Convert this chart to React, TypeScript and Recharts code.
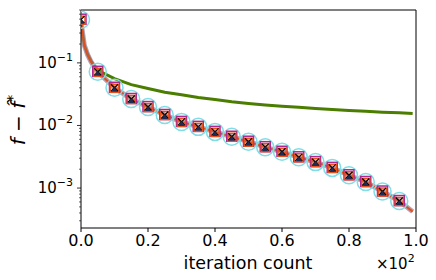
import React from 'react';
import { ComposedChart, Line, Scatter, XAxis, YAxis, ReferenceLine } from 'recharts';

// iteration (x100) and objective gap
const lineX = [0, 0.01, 0.02, 0.03, 0.04, 0.05, 0.1, 0.15, 0.2, 0.25, 0.3, 0.35, 0.4, 0.45, 0.5, 0.55, 0.6, 0.65, 0.7, 0.75, 0.8, 0.85, 0.9, 0.95, 0.99];
const bundleY = [0.45, 0.19, 0.134, 0.104, 0.086, 0.072, 0.04, 0.0265, 0.0197, 0.0147, 0.0114, 0.0095, 0.0079, 0.0066, 0.0055, 0.0045, 0.0038, 0.0031, 0.0026, 0.0021, 0.0016, 0.00125, 0.00088, 0.00062, 0.00042];
const greenY = [0.45, 0.19, 0.136, 0.107, 0.09, 0.076, 0.056, 0.045, 0.039, 0.034, 0.031, 0.028, 0.026, 0.024, 0.0225, 0.0213, 0.0203, 0.0195, 0.0187, 0.018, 0.0174, 0.0168, 0.0163, 0.0159, 0.0155];
const markerX = [0, 0.05, 0.1, 0.15, 0.2, 0.25, 0.3, 0.35, 0.4, 0.45, 0.5, 0.55, 0.6, 0.65, 0.7, 0.75, 0.8, 0.85, 0.9, 0.95];
const markerY = [0.49, 0.072, 0.04, 0.0265, 0.0197, 0.0147, 0.0114, 0.0095, 0.0079, 0.0066, 0.0055, 0.0045, 0.0038, 0.0031, 0.0026, 0.0021, 0.0016, 0.00125, 0.00088, 0.00062];

const xTicks = [0, 0.2, 0.4, 0.6, 0.8, 1.0];
const majorY = [0.001, 0.01, 0.1];
const minorY = [0.0003, 0.0004, 0.0005, 0.0006, 0.0007, 0.0008, 0.0009, 0.002, 0.003, 0.004, 0.005, 0.006, 0.007, 0.008, 0.009, 0.02, 0.03, 0.04, 0.05, 0.06, 0.07, 0.08, 0.09, 0.2, 0.3, 0.4, 0.5, 0.6, 0.7];

const bundleData = lineX.map((x, i) => ({ x, y: bundleY[i] }));
const greenData = lineX.map((x, i) => ({ x, y: greenY[i] }));
const markerData = markerX.map((x, i) => ({ x, y: markerY[i] }));

const FONT = 'DejaVu Sans';

function YTick(props: any) {
  const { x, y, payload } = props;
  const v = payload.value;
  const major = majorY.some((m) => Math.abs(m - v) / m < 1e-6);
  if (!major) {
    return <line x1={x - 2} x2={x} y1={y} y2={y} stroke="#000" strokeWidth={0.6} />;
  }
  const exp = Math.round(Math.log10(v));
  return (
    <g>
      <line x1={x - 4} x2={x} y1={y} y2={y} stroke="#000" strokeWidth={0.8} />
      <text x={x - 8} y={y + 5} textAnchor="end" fontFamily={FONT} fontSize={15} fill="#000">
        10<tspan dy={-7} fontSize={11}>{'\u2212' + Math.abs(exp)}</tspan>
      </text>
    </g>
  );
}

function Marks(props: any) {
  const { cx, cy } = props;
  return (
    <g>
      <circle cx={cx} cy={cy} r={8.5} fill="none" stroke="#7fdde6" strokeWidth={1.5} />
      <rect x={cx - 5} y={cy - 5.5} width={10} height={10} fill="none" stroke="#b4268c" strokeWidth={1.5} />
      <rect x={cx - 4} y={cy - 3.5} width={8} height={8} fill="none" stroke="#e8521e" strokeWidth={1.5} />
      <path d={`M${cx - 3.5},${cy - 3.5}L${cx + 3.5},${cy + 3.5}M${cx - 3.5},${cy + 3.5}L${cx + 3.5},${cy - 3.5}`} stroke="#000" strokeWidth={1.2} />
      <path d={`M${cx},${cy - 1}L${cx + 3},${cy + 4}L${cx - 3},${cy + 4}Z`} fill="#1f2a55" />
    </g>
  );
}

export default function App() {
  return (
    <div style={{ position: 'absolute', left: 0, top: 0, width: 436, height: 280 }}>
      <ComposedChart width={436} height={280} margin={{ top: 10, right: 20, bottom: 0, left: 0 }}>
        <XAxis
          dataKey="x"
          type="number"
          domain={[0, 1]}
          ticks={xTicks}
          tickFormatter={(v: number) => v.toFixed(1)}
          allowDataOverflow
          height={52}
          stroke="#000"
          tickSize={4}
          tickMargin={3}
          tick={{ fill: '#000', fontSize: 16, fontFamily: FONT }}
        />
        <YAxis
          dataKey="y"
          type="number"
          scale="log"
          domain={[0.00023, 0.7]}
          allowDataOverflow
          ticks={[...minorY, ...majorY]}
          width={81}
          stroke="#000"
          tickSize={0}
          tickMargin={0}
          tickLine={false}
          tick={<YTick />}
          interval={0}
        />
        <ReferenceLine x={1} stroke="#000" />
        <ReferenceLine y={0.7} stroke="#000" />
        <Line data={greenData} dataKey="y" stroke="#4a7d00" strokeWidth={3} dot={false} isAnimationActive={false} />
        <Line data={bundleData} dataKey="y" stroke="#9a7890" strokeOpacity={0.7} strokeWidth={5} dot={false} isAnimationActive={false} />
        <Line data={bundleData} dataKey="y" stroke="#e0501e" strokeWidth={2} dot={false} isAnimationActive={false} />
        <Scatter data={markerData} dataKey="y" shape={<Marks />} isAnimationActive={false} />
        <text x={248} y={269} textAnchor="middle" fontFamily={FONT} fontSize={17.5} fill="#000">iteration count</text>
        <text x={376} y={269} fontFamily={FONT} fontSize={15} fill="#000">
          ×10<tspan dy={-7} fontSize={11}>2</tspan>
        </text>
        <text transform="translate(25,120) rotate(-90)" textAnchor="middle" fontFamily={FONT} fontSize={20} fontStyle="italic" fill="#000">
          {'f \u2212 f\u0302'}<tspan dy={-8} fontSize={14}>*</tspan>
        </text>
      </ComposedChart>
    </div>
  );
}
